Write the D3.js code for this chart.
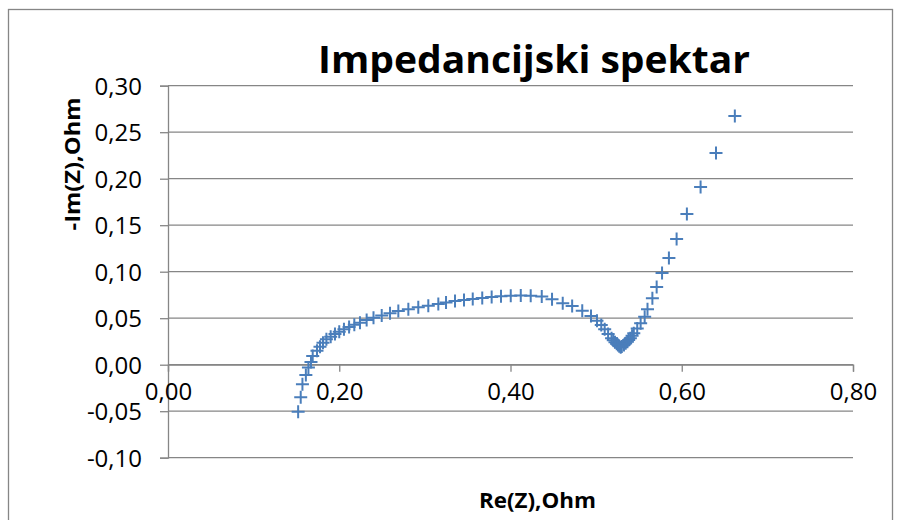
<!DOCTYPE html>
<html>
<head>
<meta charset="utf-8">
<script src="https://cdn.jsdelivr.net/npm/d3@7"></script>
<style>
  body { margin: 0; background: #fff; }
  text { font-family: "Open Sans", "Noto Sans", sans-serif; fill: #000; }
</style>
</head>
<body>
<svg id="chart" width="901" height="520"></svg>
<script>
// Re(Z) and -Im(Z) in Ohm
const reZ = [
  0.152, 0.155, 0.157, 0.161, 0.164, 0.167, 0.169, 0.174, 0.1775, 0.181,
  0.185, 0.190, 0.195, 0.200, 0.2055, 0.2115, 0.2176, 0.2242, 0.232, 0.240,
  0.2496, 0.2593, 0.269, 0.2807, 0.2923, 0.304, 0.3157, 0.3247, 0.3352, 0.3457,
  0.3559, 0.367, 0.378, 0.3889, 0.4003, 0.412, 0.4236, 0.4365, 0.4485, 0.461,
  0.472, 0.4838, 0.494, 0.501, 0.506, 0.510, 0.514, 0.518, 0.520, 0.522,
  0.524, 0.5255, 0.527, 0.5287, 0.530, 0.5325, 0.5345, 0.5365, 0.538, 0.540,
  0.542, 0.544, 0.548, 0.552, 0.5567, 0.560, 0.5657, 0.5707, 0.577, 0.585,
  0.594, 0.606, 0.622, 0.640, 0.662
];
const negImZ = [
  -0.0505, -0.035, -0.021, -0.011, -0.003, 0.003, 0.0094, 0.015, 0.0194, 0.0237,
  0.0273, 0.030, 0.033, 0.0355, 0.038, 0.0405, 0.043, 0.045, 0.048, 0.0505,
  0.053, 0.0553, 0.0577, 0.0596, 0.0617, 0.0634, 0.0652, 0.0668, 0.0684, 0.0696,
  0.0706, 0.0718, 0.0728, 0.0736, 0.0741, 0.0744, 0.0741, 0.0732, 0.0703, 0.066,
  0.063, 0.058, 0.0524, 0.0473, 0.0427, 0.038, 0.033, 0.0284, 0.0262, 0.0242,
  0.0225, 0.0212, 0.0198, 0.0187, 0.0195, 0.0212, 0.023, 0.0247, 0.0265, 0.0284,
  0.031, 0.0338, 0.039, 0.0445, 0.0516, 0.0596, 0.0714, 0.0836, 0.0986, 0.1147,
  0.1352, 0.162, 0.1911, 0.2276, 0.2674
];
const xTicks = [0, 0.2, 0.4, 0.6, 0.8];
const yTicks = [-0.10, -0.05, 0, 0.05, 0.10, 0.15, 0.20, 0.25, 0.30];

const chartTitle = "Impedancijski spektar";
const xTitle = "Re(Z),Ohm";
const yTitle = "-Im(Z),Ohm";

const points = reZ.map((v, i) => ({ x: v, y: negImZ[i] }));

const svg = d3.select("#chart");
const plotLeft = 168, plotRight = 853, plotTop = 85.7, plotBottom = 457.7;
const gridColor = "#868686";
const markColor = "#4a7ebb";
// decimal comma and a plain hyphen for negatives, like the original
const fmt = v => d3.format(".2f")(v).replace(".", ",").replace("\u2212", "-");

const x = d3.scaleLinear().domain([0, 0.8]).range([plotLeft, plotRight]);
const y = d3.scaleLinear().domain([-0.10, 0.30]).range([plotBottom, plotTop]);

// chart frame
svg.append("rect")
    .attr("x", 8.5).attr("y", 9.5)
    .attr("width", 884).attr("height", 530)
    .attr("fill", "none")
    .attr("stroke", gridColor)
    .attr("stroke-width", 1.3);

// horizontal gridlines
svg.append("g")
    .selectAll("line")
    .data(yTicks)
    .enter()
    .append("line")
    .attr("x1", plotLeft).attr("x2", plotRight)
    .attr("y1", d => y(d)).attr("y2", d => y(d))
    .attr("stroke", gridColor)
    .attr("stroke-width", 1.3);

// y axis (ticks outside, to the left)
const yAxis = svg.append("g")
    .attr("transform", "translate(" + plotLeft + ",0)")
    .call(d3.axisLeft(y).tickValues(yTicks).tickSize(8).tickPadding(18).tickFormat(fmt));

// x axis sits on -Im(Z) = 0, ticks pointing down
const xAxis = svg.append("g")
    .attr("transform", "translate(0," + y(0) + ")")
    .call(d3.axisBottom(x).tickValues(xTicks).tickSize(7).tickPadding(11).tickFormat(fmt));

[yAxis, xAxis].forEach(a => {
    a.select(".domain").attr("stroke", gridColor).attr("stroke-width", 1.3);
    a.selectAll(".tick line").attr("stroke", gridColor).attr("stroke-width", 1.3);
    a.selectAll(".tick text")
        .attr("fill", "#000")
        .style("font-family", "'Open Sans', sans-serif")
        .style("font-size", "24px");
});
yAxis.selectAll(".tick text").attr("dy", "0.36em");

// + markers
const half = 6.5;
svg.append("g")
    .selectAll("path")
    .data(points)
    .enter()
    .append("path")
    .attr("d", d => {
        const cx = x(d.x), cy = y(d.y);
        return "M" + (cx - half) + "," + cy + "H" + (cx + half) +
            "M" + cx + "," + (cy - half) + "V" + (cy + half);
    })
    .attr("stroke", markColor)
    .attr("stroke-width", 2)
    .attr("fill", "none");

// titles
svg.append("text")
    .attr("x", 534).attr("y", 73)
    .attr("text-anchor", "middle")
    .attr("textLength", 432)
    .attr("lengthAdjust", "spacingAndGlyphs")
    .style("font-size", "38px")
    .style("font-weight", 700)
    .text(chartTitle);

svg.append("text")
    .attr("x", 537.5).attr("y", 508)
    .attr("text-anchor", "middle")
    .attr("textLength", 117)
    .attr("lengthAdjust", "spacingAndGlyphs")
    .style("font-size", "22px")
    .style("font-weight", 700)
    .text(xTitle);

svg.append("text")
    .attr("transform", "translate(80,164) rotate(-90)")
    .attr("text-anchor", "middle")
    .attr("textLength", 133)
    .attr("lengthAdjust", "spacingAndGlyphs")
    .style("font-size", "22px")
    .style("font-weight", 700)
    .text(yTitle);
</script>
</body>
</html>
